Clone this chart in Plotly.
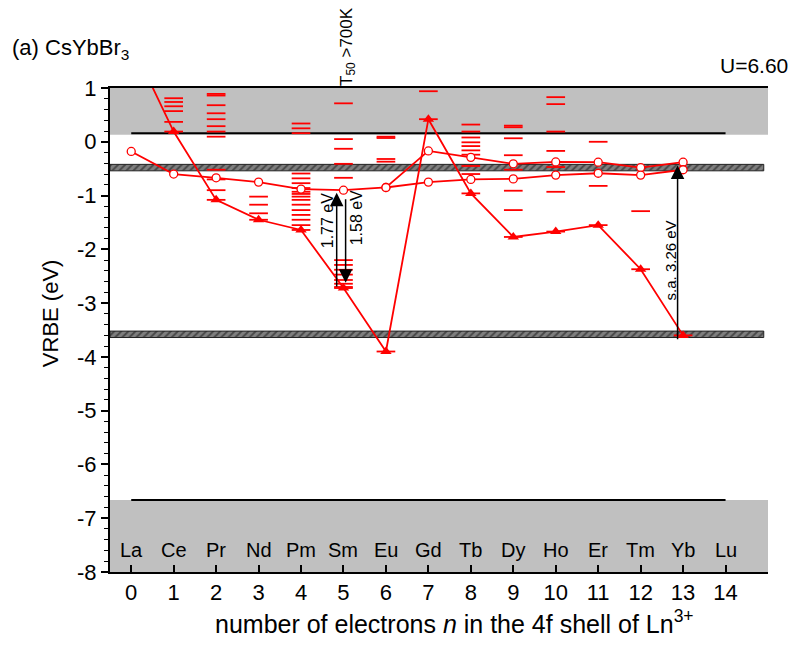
import plotly.graph_objects as go

# ---------------------------------------------------------------- data
n_values = list(range(15))
ln_symbols = ["La", "Ce", "Pr", "Nd", "Pm", "Sm", "Eu", "Gd", "Tb", "Dy",
              "Ho", "Er", "Tm", "Yb", "Lu"]
y_tick_values = [1, 0, -1, -2, -3, -4, -5, -6, -7, -8]
y_tick_labels = ["1", "0", "-1", "-2", "-3", "-4", "-5", "-6", "-7", "-8"]

# Ln2+ 4f ground state energies (VRBE, eV); La lies above the window
ground_n = list(range(14))
ground_vrbe = [1.84, 0.19, -1.08, -1.45, -1.64, -2.72, -3.90, 0.42, -0.96,
               -1.77, -1.67, -1.55, -2.37, -3.60]

# lowest 5d state of Ln2+, two branches (high / low spin beyond Eu)
d5_upper_n = list(range(14))
d5_upper = [-0.18, -0.60, -0.67, -0.75, -0.88, -0.90, -0.85, -0.17, -0.29,
            -0.41, -0.375, -0.38, -0.48, -0.38]
d5_lower_n = list(range(6, 14))
d5_lower = [-0.85, -0.75, -0.70, -0.69, -0.62, -0.585, -0.62, -0.52]

# excited 4f levels per lanthanide, indexed by n
excited_levels = [
    [],
    [0.81, 0.74, 0.66, 0.57, 0.37],
    [0.89, 0.86, 0.68, 0.53, 0.42, 0.29, 0.19, 0.095, -0.52, -0.70, -0.90],
    [-1.02, -1.17, -1.33],
    [0.34, 0.25, 0.16, -0.59, -0.68, -0.77, -0.86, -0.93, -0.97, -1.02,
     -1.08, -1.17, -1.27, -1.36, -1.45, -1.55],
    [0.715, 0.05, -0.13, -0.41, -0.67, -2.20, -2.29, -2.38, -2.47, -2.57,
     -2.64, -2.70],
    [0.095, 0.07, -0.32, -0.37],
    [0.94],
    [0.32, 0.19, 0.08, -0.01, -0.08, -0.16, -0.24, -0.45, -0.60],
    [0.30, 0.27, 0.065, -0.25, -0.52, -0.91, -1.27],
    [0.83, 0.70, 0.19, -0.17, -0.47, -0.93],
    [0.0, -0.82],
    [-1.29],
    [],
    [],
]

# host bands and hatched Yb2+ levels (VRBE, eV)
cb_bottom = 0.16
vb_top = -6.66
hatched_bands = [(-0.42, -0.54), (-3.52, -3.64)]

# transition arrows: (x, start, energy); sign gives direction
sm_up = (4.84, -2.72, 1.77)
sm_down = (5.05, -1.04, -1.58)
yb_sa = (12.87, -3.70, 3.26)

X_RANGE = [-0.5, 15.0]
Y_RANGE = [-8, 1]
FONT = "Liberation Sans, Arial, sans-serif"
RED = "#ff0000"
DASH_HALF = 0.22


def y_to_paper(v):
    return (v - Y_RANGE[0]) / (Y_RANGE[1] - Y_RANGE[0])


fig = go.Figure()

# hatched bands
for top, bottom in hatched_bands:
    fig.add_trace(go.Scatter(
        x=[-0.5, 14.9, 14.9, -0.5, -0.5],
        y=[top, top, bottom, bottom, top],
        mode="lines", fill="toself",
        fillcolor="#7a7a7a",
        fillpattern=dict(shape="/", fgcolor="#111111", bgcolor="#7f7f7f",
                         size=5, solidity=0.4),
        line=dict(color="#222222", width=1),
        hoverinfo="skip", showlegend=False))

# level dashes (excited levels + ground states)
dx, dy = [], []
for n, levels in enumerate(excited_levels):
    for e in levels:
        dx += [n - DASH_HALF, n + DASH_HALF, None]
        dy += [e, e, None]
for n, e in zip(ground_n, ground_vrbe):
    if e <= Y_RANGE[1]:
        dx += [n - DASH_HALF, n + DASH_HALF, None]
        dy += [e, e, None]
fig.add_trace(go.Scatter(x=dx, y=dy, mode="lines",
                         line=dict(color=RED, width=1.8),
                         hoverinfo="skip", showlegend=False))

# ground-state zigzag
fig.add_trace(go.Scatter(x=ground_n, y=ground_vrbe, mode="lines+markers",
                         line=dict(color=RED, width=1.8),
                         marker=dict(symbol="triangle-up", size=10, color=RED),
                         showlegend=False))

# 5d branches
for xs, ys in ((d5_upper_n, d5_upper), (d5_lower_n, d5_lower)):
    fig.add_trace(go.Scatter(x=xs, y=ys, mode="lines+markers",
                             line=dict(color=RED, width=1.8),
                             marker=dict(symbol="circle", size=8, color="white",
                                         line=dict(color=RED, width=1.3)),
                             showlegend=False))

shapes = [
    dict(type="rect", xref="x", yref="y", x0=X_RANGE[0], x1=X_RANGE[1],
         y0=cb_bottom - 0.03, y1=1, fillcolor="#c0c0c0", line_width=0,
         layer="below"),
    dict(type="rect", xref="x", yref="y", x0=X_RANGE[0], x1=X_RANGE[1],
         y0=Y_RANGE[0], y1=vb_top, fillcolor="#c0c0c0", line_width=0,
         layer="below"),
    dict(type="line", xref="x", yref="y", x0=0, x1=14, y0=cb_bottom,
         y1=cb_bottom, line=dict(color="black", width=2), layer="below"),
    dict(type="line", xref="x", yref="y", x0=0, x1=14, y0=vb_top,
         y1=vb_top, line=dict(color="black", width=2), layer="below"),
]

annotations = []
# arrows
for ax_x, start, energy in (sm_up, sm_down, yb_sa):
    annotations.append(dict(
        x=ax_x, y=start + energy, ax=ax_x, ay=start,
        xref="x", yref="y", axref="x", ayref="y",
        text="", showarrow=True, arrowhead=2, arrowsize=1.8,
        arrowwidth=1.5, arrowcolor="black", standoff=0, startstandoff=0))

# arrow labels
annotations += [
    dict(x=4.61, y=-1.46, xref="x", yref="y", text="1.77 eV", textangle=-90,
         showarrow=False, font=dict(size=16)),
    dict(x=5.30, y=-1.42, xref="x", yref="y", text="1.58 eV", textangle=-90,
         showarrow=False, font=dict(size=16)),
    dict(x=12.70, y=-2.20, xref="x", yref="y", text="s.a. 3.26 eV",
         textangle=-90, showarrow=False, font=dict(size=15)),
    dict(x=5.09, y=y_to_paper(1.77), xref="x", yref="paper",
         xanchor="center", yanchor="middle",
         text="T<sub>50</sub> >700K", textangle=-90, showarrow=False,
         font=dict(size=17)),
]

# element labels inside the valence band
for n, sym in zip(n_values, ln_symbols):
    annotations.append(dict(x=n, y=-7.6, xref="x", yref="y", text=sym,
                            showarrow=False, font=dict(size=20)))

# titles
annotations += [
    dict(x=-0.152, y=1.08, xref="paper", yref="paper", xanchor="left",
         yanchor="middle", text="(a) CsYbBr<sub>3</sub>", showarrow=False,
         font=dict(size=22)),
    dict(x=1.034, y=1.047, xref="paper", yref="paper", xanchor="right",
         yanchor="middle", text="U=6.60", showarrow=False,
         font=dict(size=21)),
    dict(x=0.523, y=-0.103, xref="paper", yref="paper", xanchor="center",
         yanchor="middle",
         text="number of electrons <i>n</i> in the 4f shell of Ln<sup>3+</sup>",
         showarrow=False, font=dict(size=25)),
    dict(x=-0.091, y=0.535, xref="paper", yref="paper", xanchor="center",
         yanchor="middle", text="VRBE (eV)", textangle=-90, showarrow=False,
         font=dict(size=22)),
]

fig.update_layout(
    width=812, height=652,
    margin=dict(l=110, r=44, t=88, b=80),
    paper_bgcolor="white", plot_bgcolor="white",
    font=dict(family=FONT, color="black", size=20),
    shapes=shapes, annotations=annotations,
    showlegend=False,
)
fig.update_xaxes(
    range=X_RANGE, tickmode="array", tickvals=n_values,
    ticktext=[str(n) for n in n_values],
    ticks="inside", ticklen=7, tickwidth=1.5, tickcolor="black",
    showline=True, linecolor="black", linewidth=2, mirror=True,
    showgrid=False, zeroline=False, tickfont=dict(size=22),
)
fig.update_yaxes(
    range=Y_RANGE, tickmode="array", tickvals=y_tick_values,
    ticktext=y_tick_labels,
    ticks="outside", ticklen=7, tickwidth=1.5, tickcolor="black",
    minor=dict(ticks="outside", dtick=0.2, ticklen=4, tickwidth=1.2,
               tickcolor="black", showgrid=False),
    showline=True, linecolor="black", linewidth=2, mirror=False,
    showgrid=False, zeroline=False, tickfont=dict(size=22),
)

fig.write_html("out.html")
